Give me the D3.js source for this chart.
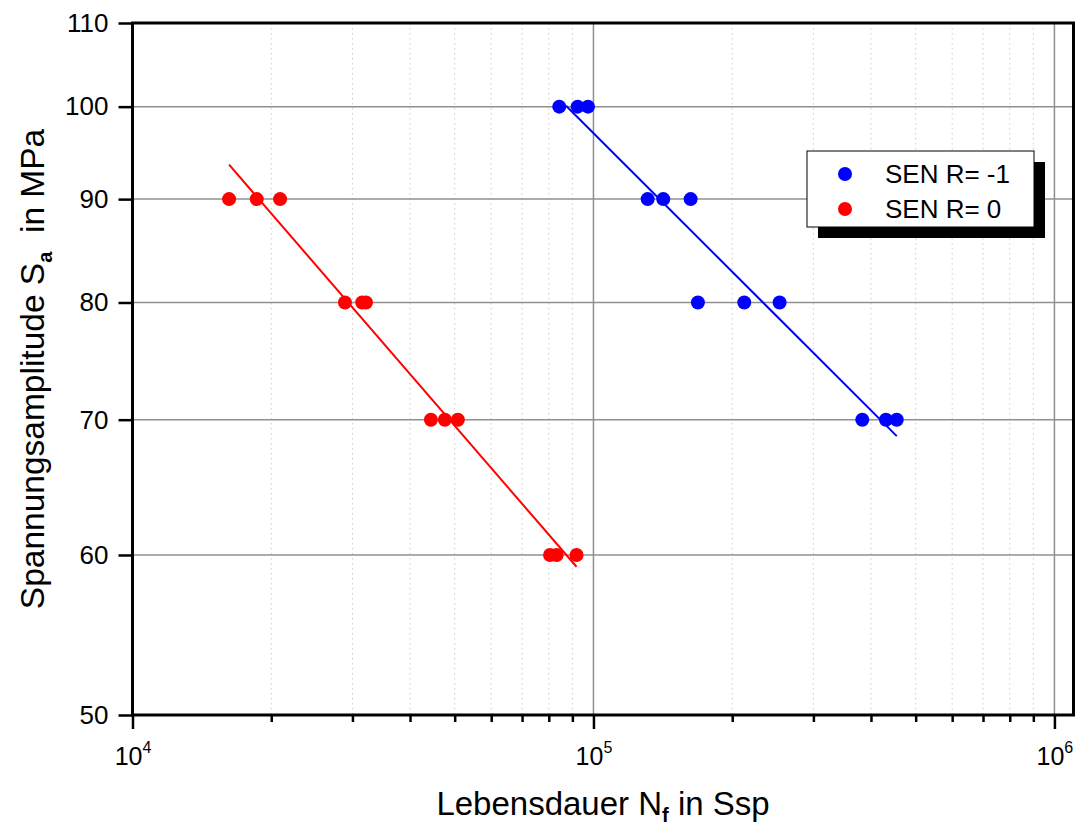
<!DOCTYPE html>
<html>
<head>
<meta charset="utf-8">
<script src="https://cdn.jsdelivr.net/npm/d3@7"></script>
<style>
  html, body { margin: 0; padding: 0; background: #fff; }
  svg { display: block; font-family: "Liberation Sans", Arial, sans-serif; }
</style>
</head>
<body>
<svg id="chart" width="1076" height="828"></svg>
<script>
// S-N data: stress amplitude (MPa) vs. cycles to failure
const seriesNames = ["SEN R= -1", "SEN R= 0"];
const seriesColors = ["#0000ff", "#ff0000"];

const blueN = [84300, 92400, 97300, 131100, 141700, 162500, 168500, 212400, 253400, 383000, 431000, 455000];
const blueS = [100, 100, 100, 90, 90, 90, 80, 80, 80, 70, 70, 70];
const redN  = [16200, 18600, 20900, 28900, 31500, 32100, 44400, 47600, 50800, 80500, 83200, 91900];
const redS  = [90, 90, 90, 80, 80, 80, 70, 70, 70, 60, 60, 60];

// fitted Basquin lines (end points)
const blueFitN = [87200, 455000];
const blueFitS = [100.1, 68.7];
const redFitN  = [16200, 91900];
const redFitS  = [93.6, 59.2];

const yTicks = [50, 60, 70, 80, 90, 100, 110];
const xMajor = [1e4, 1e5, 1e6];
const xExp   = [4, 5, 6];

const svg = d3.select("#chart");
const plotL = 132.5, plotR = 1073.5, plotT = 23, plotB = 715;

const x = d3.scaleLog().domain([1e4, 1.1e6]).range([plotL, plotR]);
const y = d3.scaleLog().domain([50, 110]).range([plotB, plotT]);

// minor decade values 2..9
const xMinor = [];
[1e4, 1e5, 1e6].forEach(d => { for (let k = 2; k <= 9; k++) { const v = k * d; if (v <= 1.1e6) xMinor.push(v); } });

// grid
const grid = svg.append("g");
grid.selectAll("line.minor").data(xMinor).join("line")
  .attr("class", "minor")
  .attr("x1", d => x(d)).attr("x2", d => x(d))
  .attr("y1", plotT).attr("y2", plotB)
  .attr("stroke", "#cccccc").attr("stroke-width", 1).attr("stroke-dasharray", "1.5,3.5");
grid.selectAll("line.vmaj").data([1e5, 1e6]).join("line")
  .attr("class", "vmaj")
  .attr("x1", d => x(d)).attr("x2", d => x(d))
  .attr("y1", plotT).attr("y2", plotB)
  .attr("stroke", "#909090").attr("stroke-width", 1.5);
grid.selectAll("line.hmaj").data([60, 70, 80, 90, 100]).join("line")
  .attr("class", "hmaj")
  .attr("x1", plotL).attr("x2", plotR)
  .attr("y1", d => y(d)).attr("y2", d => y(d))
  .attr("stroke", "#909090").attr("stroke-width", 1.5);

// fit lines
const line = d3.line().x(d => x(d[0])).y(d => y(d[1]));
svg.append("path").datum(d3.zip(blueFitN, blueFitS)).attr("d", line)
  .attr("fill", "none").attr("stroke", seriesColors[0]).attr("stroke-width", 2);
svg.append("path").datum(d3.zip(redFitN, redFitS)).attr("d", line)
  .attr("fill", "none").attr("stroke", seriesColors[1]).attr("stroke-width", 2);

// points
svg.append("g").selectAll("circle").data(d3.zip(blueN, blueS)).join("circle")
  .attr("cx", d => x(d[0])).attr("cy", d => y(d[1])).attr("r", 7).attr("fill", seriesColors[0]);
svg.append("g").selectAll("circle").data(d3.zip(redN, redS)).join("circle")
  .attr("cx", d => x(d[0])).attr("cy", d => y(d[1])).attr("r", 7).attr("fill", seriesColors[1]);

// y axis
const yAxis = svg.append("g").attr("transform", `translate(${plotL},0)`)
  .call(d3.axisLeft(y).tickValues(yTicks).tickSize(14).tickPadding(10).tickFormat(d3.format("d")));
yAxis.select(".domain").remove();
yAxis.selectAll(".tick line").attr("stroke", "#000").attr("stroke-width", 2.5);
yAxis.selectAll(".tick text").attr("font-size", 26).attr("fill", "#000")
  .attr("font-family", "'Liberation Sans', Arial, sans-serif");

// x axis: minor ticks
const xMinAxis = svg.append("g").attr("transform", `translate(0,${plotB})`)
  .call(d3.axisBottom(x).tickValues(xMinor).tickSize(7).tickFormat(""));
xMinAxis.select(".domain").remove();
xMinAxis.selectAll(".tick line").attr("stroke", "#000").attr("stroke-width", 2.5);

// x axis: major ticks with power-of-ten labels
const xAxis = svg.append("g").attr("transform", `translate(0,${plotB})`)
  .call(d3.axisBottom(x).tickValues(xMajor).tickSize(14).tickFormat(""));
xAxis.select(".domain").remove();
xAxis.selectAll(".tick line").attr("stroke", "#000").attr("stroke-width", 2.5);
xAxis.selectAll(".tick").each(function(d, i) {
  const t = d3.select(this).append("text")
    .attr("y", 50).attr("text-anchor", "middle").attr("fill", "#000")
    .attr("font-size", 25).attr("font-family", "'Liberation Sans', Arial, sans-serif");
  t.append("tspan").text("10");
  t.append("tspan").attr("font-size", 16).attr("dy", -12).text(xExp[i]);
});

// frame
svg.append("rect").attr("x", plotL).attr("y", plotT)
  .attr("width", plotR - plotL).attr("height", plotB - plotT)
  .attr("fill", "none").attr("stroke", "#000").attr("stroke-width", 3);

// axis titles
const xt = svg.append("text").attr("x", (plotL + plotR) / 2).attr("y", 815)
  .attr("text-anchor", "middle").attr("font-size", 33).attr("fill", "#000");
xt.append("tspan").text("Lebensdauer N");
xt.append("tspan").attr("font-size", 20).attr("font-weight", "bold").attr("dy", 7).text("f");
xt.append("tspan").attr("dy", -7).text(" in Ssp");

const yt = svg.append("text")
  .attr("transform", `translate(44,${(plotT + plotB) / 2}) rotate(-90)`)
  .attr("text-anchor", "middle").attr("font-size", 33.5).attr("fill", "#000")
  .style("white-space", "pre");
yt.append("tspan").text("Spannungsamplitude S");
yt.append("tspan").attr("font-size", 20).attr("font-weight", "bold").attr("dy", 8).text("a");
yt.append("tspan").attr("dy", -8).text("  in MPa");

// legend with drop shadow
const lg = svg.append("g").attr("transform", "translate(807,151)");
const lw = 227, lh = 76;
lg.append("rect").attr("x", 11).attr("y", 11).attr("width", lw).attr("height", lh).attr("fill", "#000");
lg.append("rect").attr("width", lw).attr("height", lh).attr("fill", "#fff").attr("stroke", "#000").attr("stroke-width", 1);
seriesNames.forEach((name, i) => {
  const cy = 23 + i * 35;
  lg.append("circle").attr("cx", 38).attr("cy", cy).attr("r", 7).attr("fill", seriesColors[i]);
  lg.append("text").attr("x", 78).attr("y", cy + 9).attr("font-size", 26).attr("fill", "#000").text(name);
});
</script>
</body>
</html>
